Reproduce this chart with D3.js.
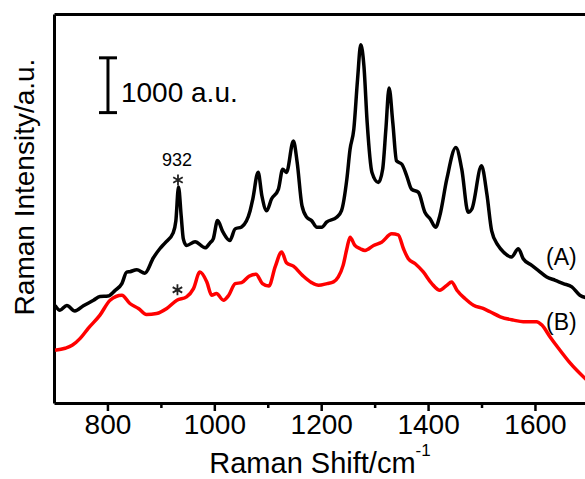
<!DOCTYPE html>
<html>
<head>
<meta charset="utf-8">
<script src="https://cdn.jsdelivr.net/npm/d3@7"></script>
<style>
  body { margin: 0; background: #fff; }
  text { font-family: "Liberation Sans", Arial, sans-serif; fill: #000; }
</style>
</head>
<body>
<div id="chart"></div>
<script>
const WIDTH = 585;
const HEIGHT = 479;
const MARGIN = { TOP: 14, BOTTOM: 75, LEFT: 54 };

// spectrum A (black) : wavenumber / intensity
const shiftA = [702, 711, 724, 739, 755, 774, 786, 801, 814, 827, 836, 842, 855, 870, 886, 898, 908, 923, 928, 933,
  938, 942, 948, 964, 983, 992, 998, 1006, 1016, 1029, 1039, 1051, 1067, 1072, 1082, 1089, 1098, 1107, 1120, 1128,
  1135, 1148, 1155, 1164, 1173, 1182, 1192, 1201, 1210, 1229, 1238, 1248, 1254, 1261, 1268, 1274, 1280, 1286, 1295,
  1307, 1315, 1321, 1327, 1334, 1341, 1351, 1360, 1369, 1382, 1394, 1404, 1414, 1422, 1435, 1452, 1463, 1475, 1482,
  1500, 1510, 1519, 1531, 1541, 1556, 1569, 1578, 1594, 1606, 1622, 1638, 1653, 1669, 1684, 1703];
const intensityA = [1780, 1694, 1780, 1680, 1774, 1876, 1943, 1952, 2052, 2179, 2388, 2397, 2433, 2370, 2651, 2815, 2924, 3105, 3323, 3941,
  3414, 2996, 2875, 2942, 2833, 2924, 2996, 3329, 3124, 2966, 3178, 3214, 3510, 3723, 4213, 3783, 3510, 3723, 3904, 4268,
  4208, 4782, 4395, 3601, 3390, 3329, 3209, 3209, 3300, 3390, 3510, 4086, 4631, 4994, 5902, 6538, 6144, 5121, 4208,
  4026, 4268, 4994, 5751, 5116, 4418, 4358, 4146, 3904, 3844, 3481, 3360, 3209, 3420, 4086, 4662, 4268, 3481, 3541,
  4328, 3814, 3142, 2875, 2755, 2664, 2815, 2633, 2512, 2421, 2301, 2239, 2179, 2119, 1967, 1907];

// spectrum B (red)
const shiftB = [702, 721, 734, 749, 764, 786, 805, 827, 842, 858, 873, 892, 911, 930, 948, 961, 973, 986, 995, 1004,
  1017, 1027, 1039, 1051, 1065, 1078, 1090, 1102, 1114, 1126, 1135, 1148, 1165, 1182, 1195, 1211, 1223, 1232, 1241,
  1248, 1254, 1263, 1273, 1282, 1298, 1313, 1332, 1344, 1354, 1363, 1376, 1391, 1407, 1422, 1435, 1444, 1454, 1469,
  1485, 1503, 1516, 1535, 1560, 1578, 1603, 1613, 1628, 1644, 1666, 1703];
const intensityB = [962, 999, 1053, 1180, 1362, 1604, 1876, 1967, 1816, 1725, 1616, 1634, 1725, 1876, 1938, 2088, 2392, 2210, 1967, 1998,
  1876, 1967, 2179, 2197, 2315, 2352, 2179, 2134, 2488, 2755, 2561, 2497, 2330, 2197, 2148, 2179, 2210, 2301, 2512,
  2815, 3027, 2875, 2815, 2784, 2875, 2936, 3087, 3069, 2815, 2633, 2542, 2392, 2179, 2058, 2148, 2210, 2058, 1907,
  1785, 1725, 1665, 1574, 1513, 1484, 1484, 1422, 1211, 999, 726, 363];

const majorTicks = [800, 1000, 1200, 1400, 1600];
const minorTicks = [900, 1100, 1300, 1500, 1700];
const seriesLabels = ["(A)", "(B)"];

const x = d3.scaleLinear().domain([700, 1800]).range([MARGIN.LEFT, MARGIN.LEFT + 1100 * 0.5344]);
const y = d3.scaleLinear().domain([0, 7100]).range([HEIGHT - MARGIN.BOTTOM - 1, MARGIN.TOP]);

const svg = d3.select('#chart')
  .append('svg')
    .attr('width', WIDTH)
    .attr('height', HEIGHT);

// axes / frame
const bottom = HEIGHT - MARGIN.BOTTOM - 1;

svg.append('g')
  .attr('transform', `translate(0, ${bottom})`)
  .call(d3.axisBottom(x).tickValues(minorTicks).tickSize(5).tickSizeOuter(0).tickFormat(''))
  .call(g => g.select('.domain').remove())
  .call(g => g.selectAll('.tick line').attr('stroke-width', 2.5));

svg.append('g')
  .attr('transform', `translate(0, ${bottom})`)
  .call(d3.axisBottom(x).tickValues(majorTicks).tickSize(8).tickSizeOuter(0).tickPadding(3).tickFormat(d3.format('d')))
  .call(g => g.select('.domain').attr('stroke-width', 3))
  .call(g => g.selectAll('.tick line').attr('stroke-width', 2.5))
  .call(g => g.selectAll('.tick text').attr('font-size', 28).attr('font-family', '"Liberation Sans", Arial, sans-serif'));

svg.append('g')
  .attr('transform', `translate(0, ${MARGIN.TOP})`)
  .call(d3.axisTop(x).tickValues([]).tickSizeOuter(0))
  .call(g => g.select('.domain').attr('stroke-width', 3));

svg.append('g')
  .attr('transform', `translate(${MARGIN.LEFT}, 0)`)
  .call(d3.axisLeft(y).tickValues([]).tickSizeOuter(0))
  .call(g => g.select('.domain').attr('stroke-width', 3));

// spectra
const line = d3.line()
  .x(d => x(d[0]))
  .y(d => y(d[1]))
  .curve(d3.curveMonotoneX);

svg.append('defs').append('clipPath').attr('id', 'plot')
  .append('rect')
    .attr('x', MARGIN.LEFT).attr('y', MARGIN.TOP)
    .attr('width', WIDTH).attr('height', bottom - MARGIN.TOP);

svg.append('path')
  .datum(d3.zip(shiftB, intensityB))
  .attr('clip-path', 'url(#plot)')
  .attr('fill', 'none')
  .attr('stroke', '#f00')
  .attr('stroke-width', 3.5)
  .attr('stroke-linejoin', 'round')
  .attr('d', line);

svg.append('path')
  .datum(d3.zip(shiftA, intensityA))
  .attr('clip-path', 'url(#plot)')
  .attr('fill', 'none')
  .attr('stroke', '#000')
  .attr('stroke-width', 3.5)
  .attr('stroke-linejoin', 'round')
  .attr('d', line);

// axis titles
svg.append('text')
  .attr('x', 320)
  .attr('y', 473)
  .attr('text-anchor', 'middle')
  .attr('font-size', 29)
  .text('Raman Shift/cm')
  .append('tspan')
    .attr('font-size', 17)
    .attr('dy', -17)
    .text('-1');

svg.append('text')
  .attr('transform', 'translate(34, 187) rotate(-90)')
  .attr('text-anchor', 'middle')
  .attr('font-size', 28)
  .text('Raman Intensity/a.u.');

// scale bar : 1000 a.u.
const barX = x(801);
const barTop = y(6300);
const barBot = y(5300);
const bar = svg.append('g').attr('stroke', '#000').attr('stroke-width', 3);
bar.append('line').attr('x1', barX).attr('x2', barX).attr('y1', barTop).attr('y2', barBot);
bar.append('line').attr('x1', barX - 9).attr('x2', barX + 9).attr('y1', barTop).attr('y2', barTop);
bar.append('line').attr('x1', barX - 9).attr('x2', barX + 9).attr('y1', barBot).attr('y2', barBot);
svg.append('text')
  .attr('x', barX + 13)
  .attr('y', barBot - 11)
  .attr('font-size', 28)
  .text('1000 a.u.');

// 932 band markers
function asterisk(cx, cy, r) {
  let p = '';
  [90, 30, 150].forEach(a => {
    const dx = r * Math.cos(a * Math.PI / 180), dy = r * Math.sin(a * Math.PI / 180);
    p += `M${cx - dx},${cy - dy}L${cx + dx},${cy + dy}`;
  });
  return p;
}
svg.append('path')
  .attr('d', asterisk(x(932), y(4070), 5.5) + asterisk(x(931), y(2065), 5.5))
  .attr('stroke', '#222')
  .attr('stroke-width', 1.8)
  .attr('fill', 'none');

svg.append('text')
  .attr('x', x(932) - 1)
  .attr('y', y(4070) - 14)
  .attr('text-anchor', 'middle')
  .attr('font-size', 18)
  .text('932');

// series labels
svg.selectAll('.series-label')
  .data(seriesLabels)
  .enter().append('text')
    .attr('class', 'series-label')
    .attr('x', 546)
    .attr('y', (d, i) => i === 0 ? 265 : 330)
    .attr('font-family', '"Liberation Serif", "Times New Roman", serif')
    .attr('font-size', 23)
    .text(d => d);
</script>
</body>
</html>
